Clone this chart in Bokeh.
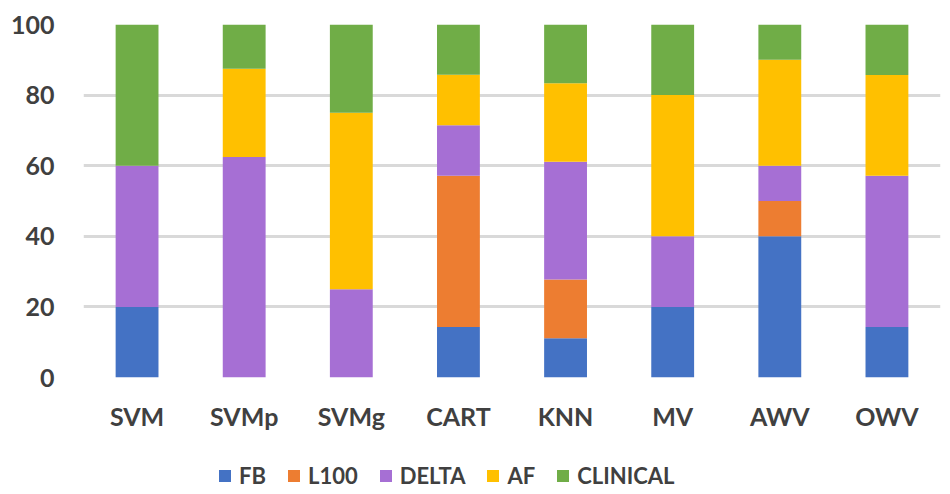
from bokeh.plotting import figure
from bokeh.models import FactorRange, Range1d, Legend, LegendItem, FixedTicker
from bokeh.layouts import column
from bokeh.embed import file_html
from bokeh.resources import INLINE

categories = ["SVM", "SVMp", "SVMg", "CART", "KNN", "MV", "AWV", "OWV"]
series = ["FB", "L100", "DELTA", "AF", "CLINICAL"]
fb = [20, 0, 0, 14.29, 11.11, 20, 40, 14.29]
l100 = [0, 0, 0, 42.86, 16.67, 0, 10, 0]
delta = [40, 62.5, 25, 14.29, 33.33, 20, 10, 42.86]
af = [0, 25, 50, 14.29, 22.22, 40, 30, 28.57]
clinical = [40, 12.5, 25, 14.29, 16.67, 20, 10, 14.29]
y_ticks = [0, 20, 40, 60, 80, 100]

colors = ["#4472C4", "#ED7D31", "#A66FD4", "#FFC000", "#70AD47"]
TXT = "#404040"
FONT = "Lato"

data = dict(cat=categories, FB=fb, L100=l100, DELTA=delta, AF=af, CLINICAL=clinical)

p = figure(x_range=FactorRange(*categories), y_range=Range1d(0, 100),
           width=950, height=440, output_backend="svg", toolbar_location=None,
           min_border_left=83, min_border_right=10, min_border_top=24, min_border_bottom=63)
p.outline_line_color = None
renderers = p.vbar_stack(series, x="cat", width=0.4, color=colors, line_color=None, source=data)

p.xgrid.grid_line_color = None
p.ygrid.grid_line_color = "#D9D9D9"
p.ygrid.grid_line_width = 3
p.yaxis.ticker = FixedTicker(ticks=y_ticks)

for ax in (p.xaxis[0], p.yaxis[0]):
    ax.axis_line_color = None
    ax.major_tick_line_color = None
    ax.minor_tick_line_color = None
    ax.major_label_text_font = FONT
    ax.major_label_text_font_style = "bold"
    ax.major_label_text_color = TXT
p.yaxis.major_label_text_font_size = "25px"
p.yaxis.major_label_standoff = 23
p.xaxis.major_label_text_font_size = "25px"
p.xaxis.major_label_standoff = 17

# legend strip below the chart (swatch renderers hold one point outside the visible range)
p2 = figure(width=950, height=54, x_range=Range1d(0, 1), y_range=Range1d(0, 1),
            output_backend="svg", toolbar_location=None, x_axis_type=None, y_axis_type=None,
            min_border=0)
p2.outline_line_color = None
p2.grid.visible = False
swatches = []
for s, c in zip(series, colors):
    swatches.append(p2.rect(x=[-5], y=[-5], width=1, height=1, fill_color=c, line_color=None))

legend = Legend(items=[LegendItem(label=s, renderers=[r]) for s, r in zip(series, swatches)],
                orientation="horizontal", location=(134, 5),
                label_text_font=FONT, label_text_font_style="bold", label_text_font_size="22px",
                label_text_color=TXT, glyph_width=15, glyph_height=15, label_standoff=7,
                spacing=20, padding=0, margin=0, border_line_color=None,
                background_fill_alpha=0, label_height=15)
p2.add_layout(legend, "center")

layout = column(p, p2, spacing=0)
open("out.html", "w").write(file_html(layout, INLINE))
